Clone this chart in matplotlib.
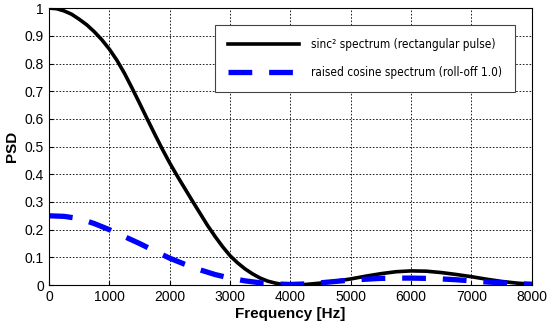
import matplotlib
matplotlib.use("Agg")
import matplotlib.pyplot as plt

# frequency axes and the two spectra
freq_black = [0, 125, 250, 375, 500, 625, 750, 875, 1000, 1125, 1250, 1375, 1500, 1625, 1750,
              1875, 2000, 2125, 2250, 2375, 2500, 2625, 2750, 2875, 3000, 3125, 3250, 3375,
              3500, 3625, 3750, 3875, 4000, 4250, 4500, 4750, 5000, 5250, 5500, 5750, 6000,
              6250, 6500, 6750, 7000, 7250, 7500, 7750, 8000]
black_vals = [1.0, 0.998, 0.99, 0.978, 0.96, 0.94, 0.915, 0.886, 0.852, 0.812, 0.765, 0.712,
              0.657, 0.601, 0.546, 0.492, 0.441, 0.394, 0.349, 0.304, 0.26, 0.216, 0.176,
              0.139, 0.106, 0.08, 0.058, 0.04, 0.025, 0.014, 0.007, 0.002, 0.0, 0.002, 0.007,
              0.014, 0.022, 0.032, 0.041, 0.048, 0.051, 0.05, 0.045, 0.038, 0.03, 0.021,
              0.013, 0.007, 0.003]
freq_blue = [0, 250, 500, 750, 1000, 1250, 1500, 1750, 2000, 2250, 2500, 2750, 3000, 3250,
             3500, 3750, 4000, 4250, 4500, 4750, 5000, 5250, 5500, 5750, 6000, 6250, 6500,
             6750, 7000, 7250, 7500, 7750, 8000]
blue_vals = [0.25, 0.248, 0.24, 0.222, 0.2, 0.175, 0.15, 0.123, 0.097, 0.075, 0.055, 0.038,
             0.025, 0.015, 0.008, 0.004, 0.002, 0.004, 0.008, 0.013, 0.018, 0.021, 0.024,
             0.025, 0.025, 0.024, 0.022, 0.019, 0.015, 0.011, 0.008, 0.005, 0.003]

label_black = "sinc² spectrum (rectangular pulse)"
label_blue = "raised cosine spectrum (roll-off 1.0)"
xlabel = "Frequency [Hz]"
ylabel = "PSD"

plt.rcParams['font.family'] = ['Liberation Sans', 'DejaVu Sans']

fig = plt.figure(figsize=(5.5, 3.25), dpi=100)
ax = fig.add_axes([0.089, 0.123, 0.878, 0.852])

ax.plot(freq_black, black_vals, color='black', lw=2.6, label=label_black)
ax.plot(freq_blue, blue_vals, color='#0000ff', lw=3.8, dashes=(4.5, 3.2), label=label_blue)

ax.set_xlim(0, 8000)
ax.set_ylim(0, 1)
ax.set_xticks(range(0, 8001, 1000))
ax.set_yticks([i / 10 for i in range(11)])
ax.set_yticklabels(['0'] + ['%.1f' % (i / 10) for i in range(1, 10)] + ['1'])
ax.tick_params(labelsize=10, direction='in', length=3)
ax.grid(True, color='black', ls=(0, (2, 2)), lw=0.6)

ax.set_xlabel(xlabel, fontsize=11, fontweight='bold', labelpad=2)
ax.set_ylabel(ylabel, fontsize=11, fontweight='bold', labelpad=4)

leg = ax.legend(loc='upper right', bbox_to_anchor=(0.977, 0.96),
                prop={'family': 'DejaVu Sans', 'stretch': 'condensed', 'size': 8.5},
                fancybox=False, framealpha=1, edgecolor='#444444',
                handlelength=6.0, borderpad=1.1, labelspacing=1.3, handletextpad=1.0)
leg.get_frame().set_linewidth(0.8)

fig.savefig("out.png", dpi=100)
